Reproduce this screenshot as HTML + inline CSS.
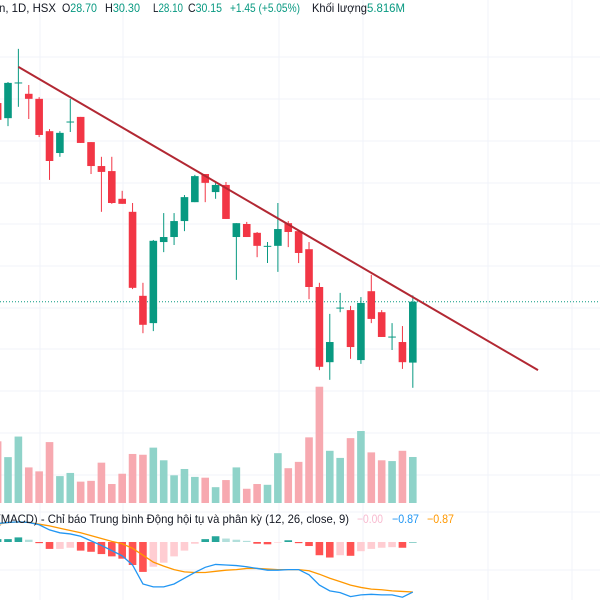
<!DOCTYPE html>
<html><head><meta charset="utf-8"><style>
html,body{margin:0;padding:0;background:#fff;width:600px;height:600px;overflow:hidden}
svg{display:block;font-family:"Liberation Sans","DejaVu Sans",sans-serif}
</style></head><body>
<svg id="chart" width="600" height="600" viewBox="0 0 600 600" xmlns="http://www.w3.org/2000/svg">
<g id="grid"></g>
<g id="vol"></g>
<g id="candles"></g>
<g id="macd"></g>
<g font-size="12" fill="#131722">
<text x="-1" y="12" textLength="57" lengthAdjust="spacingAndGlyphs">n, 1D, HSX</text>
<text x="62" y="12" textLength="35" lengthAdjust="spacingAndGlyphs">O<tspan fill="#089981">28.70</tspan></text>
<text x="105" y="12" textLength="35" lengthAdjust="spacingAndGlyphs">H<tspan fill="#089981">30.30</tspan></text>
<text x="153" y="12" textLength="30" lengthAdjust="spacingAndGlyphs">L<tspan fill="#089981">28.10</tspan></text>
<text x="188" y="12" textLength="34" lengthAdjust="spacingAndGlyphs">C<tspan fill="#089981">30.15</tspan></text>
<text x="230" y="12" textLength="70" lengthAdjust="spacingAndGlyphs" fill="#089981">+1.45 (+5.05%)</text>
<text x="312" y="12" textLength="55" lengthAdjust="spacingAndGlyphs">Khối lượng</text>
<text x="367" y="12" textLength="38" lengthAdjust="spacingAndGlyphs" fill="#089981">5.816M</text>
</g>
<g font-size="12" fill="#131722">
<text x="-3" y="523" textLength="352" lengthAdjust="spacingAndGlyphs">(MACD) - Chỉ báo Trung bình Động hội tụ và phân kỳ (12, 26, close, 9)</text>
<text x="357" y="523" textLength="26" lengthAdjust="spacingAndGlyphs" fill="#f8bbd0">−0.00</text>
<text x="392" y="523" textLength="27" lengthAdjust="spacingAndGlyphs" fill="#2196f3">−0.87</text>
<text x="427" y="523" textLength="27" lengthAdjust="spacingAndGlyphs" fill="#ff9800">−0.87</text>
</g>
</svg>
<script>
// candle index k runs from -1 to 39
const opens  = [34.88,34.52,35.35,35.10,34.98,34.21,33.69,34.42,34.55,33.95,33.38,33.26,32.60,32.29,30.29,29.64,31.57,31.69,32.07,32.52,33.19,32.76,32.93,31.69,32.00,31.79,31.46,31.48,32.02,31.83,31.40,30.50,28.71,29.99,29.95,28.76,30.40,29.90,29.30,29.19,28.70];
const highs  = [34.95,35.38,36.17,35.31,35.02,34.26,34.21,34.98,34.55,33.95,33.60,33.60,32.79,32.50,30.60,31.62,32.26,32.26,32.69,33.17,33.19,33.00,33.00,32.02,32.05,31.81,31.57,32.50,32.07,31.83,31.57,30.60,29.86,30.36,30.05,30.26,30.79,29.95,29.64,29.57,30.30];
const lows   = [34.36,34.33,34.79,34.50,34.07,33.05,33.60,34.19,33.93,33.19,32.29,32.48,32.48,30.45,29.40,29.45,31.33,31.50,31.83,32.52,32.52,32.60,32.12,30.67,31.69,31.21,31.07,30.86,31.45,31.07,30.21,28.52,28.29,29.90,28.79,28.67,29.64,29.31,29.00,28.55,28.10];
const closes = [34.48,35.36,35.37,34.98,34.12,33.50,34.17,34.44,33.93,33.38,33.24,32.50,32.48,30.48,29.60,31.60,31.69,32.07,32.64,33.14,32.98,32.93,32.12,32.02,31.69,31.48,31.48,31.88,31.81,31.31,30.50,28.60,29.19,30.01,29.07,30.12,29.74,29.31,29.32,28.71,30.15];
const volumes = [7.8,5.8,8.4,4.5,4.0,7.7,3.4,3.8,2.7,2.8,5.1,2.4,3.7,6.2,6.1,7.0,5.4,3.5,4.3,3.3,3.2,2.0,2.9,4.5,1.8,2.4,2.3,6.3,4.4,5.2,8.3,14.7,6.6,5.7,8.2,9.1,6.4,5.4,5.3,6.6,5.816];
const macdLine = [0.32,0.34,0.35,0.34,0.30,0.21,0.16,0.14,0.10,0.02,-0.06,-0.15,-0.24,-0.40,-0.73,-0.78,-0.78,-0.73,-0.63,-0.53,-0.44,-0.39,-0.40,-0.41,-0.43,-0.46,-0.49,-0.49,-0.48,-0.48,-0.57,-0.75,-0.85,-0.88,-0.95,-0.92,-0.91,-0.92,-0.92,-0.96,-0.87];
const signalLine = [0.31,0.34,0.35,0.34,0.31,0.28,0.24,0.20,0.16,0.11,0.06,0.01,-0.03,-0.11,-0.23,-0.35,-0.42,-0.48,-0.52,-0.53,-0.53,-0.51,-0.49,-0.48,-0.46,-0.46,-0.47,-0.48,-0.48,-0.48,-0.50,-0.56,-0.63,-0.69,-0.75,-0.79,-0.82,-0.83,-0.85,-0.86,-0.87];
const histogram = [0.05,0.05,0.08,0.04,-0.02,-0.12,-0.12,-0.10,-0.15,-0.17,-0.21,-0.25,-0.29,-0.40,-0.52,-0.43,-0.36,-0.25,-0.15,-0.03,0.05,0.10,0.06,0.04,0.02,-0.03,-0.04,-0.01,0.03,-0.02,-0.07,-0.23,-0.27,-0.23,-0.24,-0.16,-0.12,-0.10,-0.09,-0.10,0.00];
const trendStart = [1, 35.74];
const trendEnd = [51.06, 28.52];
const lastClose = 30.15;

const NS = "http://www.w3.org/2000/svg";
const xOf = i => 8 + (i - 1) * 10.38;
const xK = k => 8 + k * 10.38;
const yP = p => 308 - (p - 30) * 42;
const yV = v => 503 - v * 7.91;
const yM = v => 542 - v * 57.5;
function mk(tag, attrs, parent){const e=document.createElementNS(NS,tag);for(const k in attrs)e.setAttribute(k,attrs[k]);parent.appendChild(e);return e;}

const grid = document.getElementById('grid');
[40,123,279,363,488,572].forEach(x=>{const l=mk('line',{x1:x,x2:x,y1:0,y2:600,stroke:'#f0f3fa','stroke-width':1},grid);

});
[57,99,141,183,224,266,308,349,391,433,475,512,570].forEach(y=>{const l=mk('line',{x1:0,x2:600,y1:y,y2:y,stroke:'#f0f3fa','stroke-width':1},grid);

});

const vol = document.getElementById('vol');
volumes.forEach((v,i)=>{const up=closes[i]>=opens[i];
const r=mk('rect',{x:xOf(i)-3.8,y:yV(v),width:7.6,height:503-yV(v),fill:up?'#8fd3c9':'#f7a9b0'},vol);

});

const cg = document.getElementById('candles');
const pl=mk('line',{x1:0,x2:600,y1:yP(lastClose),y2:yP(lastClose),stroke:'#089981','stroke-width':1,'stroke-dasharray':'1 2'},cg);


opens.forEach((o,i)=>{const c=closes[i],up=c>=o,col=up?'#089981':'#f23645',x=xOf(i);
const w=mk('line',{x1:x,x2:x,y1:yP(highs[i]),y2:yP(lows[i]),stroke:col,'stroke-width':1},cg);


const top=Math.min(yP(o),yP(c)),h=Math.max(1,Math.abs(yP(o)-yP(c)));
const b=mk('rect',{x:x-3.8,y:top,width:7.6,height:h,fill:col},cg);

});
const tl=mk('line',{x1:xK(trendStart[0]),y1:yP(trendStart[1]),x2:xK(trendEnd[0]),y2:yP(trendEnd[1]),stroke:'#b22833','stroke-width':2},cg);



const mg = document.getElementById('macd');
histogram.forEach((h,i)=>{const prev=i>0?histogram[i-1]:h;let col;
if(h>=0)col=h>=prev?'#26a69a':'#b2dfdb';else col=h<prev?'#ff5252':'#ffcdd2';
const y0=yM(0),y1=yM(h);
const r=mk('rect',{x:xOf(i)-3.8,y:Math.min(y0,y1),width:7.6,height:Math.max(0.5,Math.abs(y1-y0)),fill:col},mg);

});
const line=(arr,col,name)=>{const p=mk('polyline',{points:arr.map((v,i)=>xOf(i)+','+yM(v)).join(' '),fill:'none',stroke:col,'stroke-width':1.3},mg);

};
line(signalLine,'#ff9800','signal-line');
line(macdLine,'#2196f3','macd-line');
</script>
</body></html>
